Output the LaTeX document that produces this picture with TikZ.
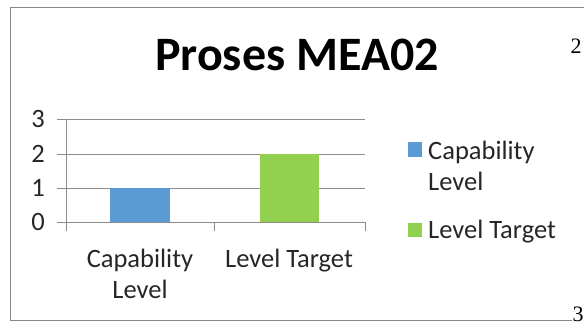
\documentclass[tikz,border=0pt]{standalone}
\usepackage{fontspec}
\setmainfont{Carlito}
\newfontfamily\serifnum{Liberation Serif}
\definecolor{barblue}{HTML}{5B9BD5}
\definecolor{bargreen}{HTML}{92D050}
\definecolor{gridgrey}{HTML}{8C8C8C}
\definecolor{framegrey}{HTML}{888888}
\begin{document}
\begin{tikzpicture}[x=1pt,y=-1pt,
  gridline/.style={draw=gridgrey,line width=1pt},
  lbl/.style={inner sep=0pt,font=\fontsize{26.5}{31}\selectfont,text=black!85},
  pagenum/.style={inner sep=0pt,font=\serifnum\fontsize{22}{26}\selectfont}]
\useasboundingbox (0,0) rectangle (584,325);
\fill[white] (0,0) rectangle (584,325);
% frame
\draw[framegrey,line width=1pt] (590,7) -- (10,7) -- (10,320) -- (572,320);
% title
\node[inner sep=0pt,font=\bfseries\fontsize{48}{54}\selectfont] (title) at (297,55) {Proses MEA02};
% gridlines
\foreach \v/\yy in {0/222,1/188,2/154,3/119}{
  \draw[gridline] (57,\yy) -- (365,\yy);
  \node[lbl,anchor=east] (y\v) at (45,\yy) {\v};
}
\draw[gridline] (66,119) -- (66,231);
\foreach \xx in {214,365} \draw[gridline] (\xx,222) -- (\xx,231);
% bars
\fill[barblue] (110,188) rectangle (170,222);
\fill[bargreen] (260,154) rectangle (319,222);
% x labels
\node[lbl,align=center,anchor=base] (xl1) at (140,298) {Capability\\Level};
\node[lbl,anchor=base] (xl2) at (289,267) {Level Target};
% legend
\fill[barblue] (408,142) rectangle (422,157);
\node[lbl,anchor=base west,align=left] (lg1) at (428,190) {Capability\\Level};
\fill[bargreen] (408,223) rectangle (422,237);
\node[lbl,anchor=base west] (lg2) at (428,238) {Level Target};
% page numbers
\node[pagenum] (p2) at (576,46) {2};
\node[pagenum] (p3) at (578,314) {3};
\end{tikzpicture}
\end{document}
